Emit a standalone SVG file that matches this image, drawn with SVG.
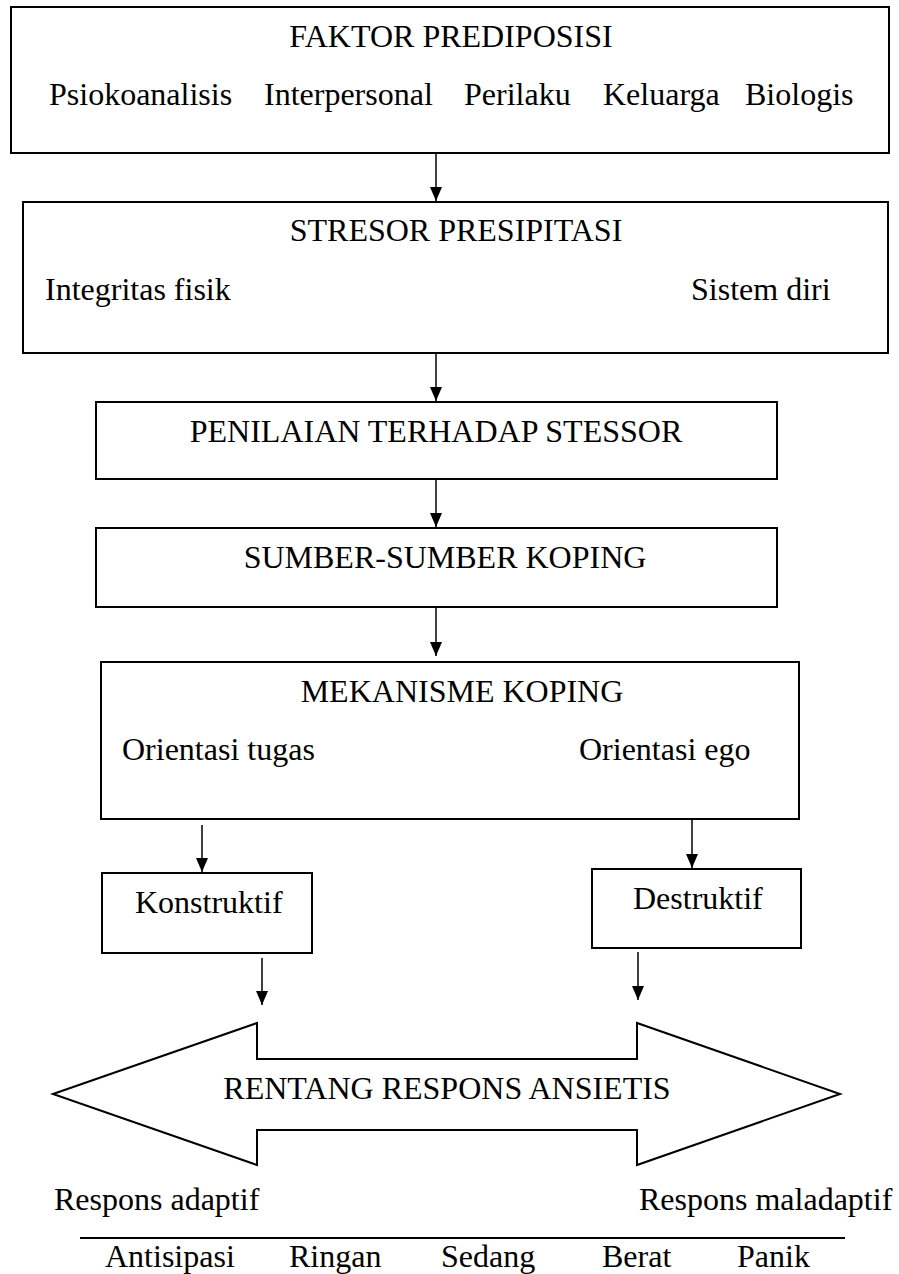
<svg xmlns="http://www.w3.org/2000/svg" width="899" height="1274" viewBox="0 0 899 1274">
<style>
text{font-family:"Liberation Serif","Times New Roman",serif;font-size:32px;fill:#000}
.box{fill:#fff;stroke:#000;stroke-width:2}
.c{text-anchor:middle}
.con line{stroke:#000;stroke-width:1.5}
</style>
<defs>
<marker id="ah" viewBox="0 0 14 12" refX="14" refY="6" markerWidth="14" markerHeight="12" markerUnits="userSpaceOnUse" orient="auto">
<path d="M0,0 L14,6 L0,12 z" fill="#000"/>
</marker>
</defs>
<rect width="899" height="1274" fill="#fff"/>
<g id="faktor">
<rect class="box" x="11" y="7" width="878" height="146"/>
<text class="c" x="451" y="47">FAKTOR PREDIPOSISI</text>
<text x="49" y="105">Psiokoanalisis</text>
<text x="264" y="105">Interpersonal</text>
<text x="464" y="105">Perilaku</text>
<text x="603" y="105">Keluarga</text>
<text x="745" y="105">Biologis</text>
</g>
<g id="stresor">
<rect class="box" x="23" y="202" width="865" height="151"/>
<text class="c" x="456" y="241">STRESOR PRESIPITASI</text>
<text x="45" y="300">Integritas fisik</text>
<text x="691" y="300">Sistem diri</text>
</g>
<g id="penilaian">
<rect class="box" x="96" y="402" width="681" height="77"/>
<text class="c" x="436" y="442">PENILAIAN TERHADAP STESSOR</text>
</g>
<g id="sumber">
<rect class="box" x="96" y="528" width="681" height="79"/>
<text class="c" x="445" y="568">SUMBER-SUMBER KOPING</text>
</g>
<g id="mekanisme">
<rect class="box" x="101" y="662" width="698" height="157"/>
<text class="c" x="462" y="702">MEKANISME KOPING</text>
<text x="122" y="760">Orientasi tugas</text>
<text x="579" y="760">Orientasi ego</text>
</g>
<g id="konstruktif">
<rect class="box" x="102" y="873" width="210" height="80"/>
<text x="135" y="913">Konstruktif</text>
</g>
<g id="destruktif">
<rect class="box" x="592" y="869" width="209" height="79"/>
<text x="633" y="909">Destruktif</text>
</g>
<g id="rentang">
<path class="box" d="M53,1094 L257,1023 L257,1059 L637,1059 L637,1023 L840,1094 L637,1165 L637,1130 L257,1130 L257,1165 Z" stroke-width="1.5"/>
<text class="c" x="447" y="1099">RENTANG RESPONS ANSIETIS</text>
</g>
<g id="labels">
<text x="54" y="1210">Respons adaptif</text>
<text x="639" y="1210">Respons maladaptif</text>
<line x1="80" y1="1238" x2="845" y2="1238" stroke="#000" stroke-width="2"/>
<text x="105" y="1267">Antisipasi</text>
<text x="289" y="1267">Ringan</text>
<text x="441" y="1267">Sedang</text>
<text x="602" y="1267">Berat</text>
<text x="737" y="1267">Panik</text>
</g>
<g id="connectors" class="con">
<line x1="436" y1="154" x2="436" y2="201" marker-end="url(#ah)"/>
<line x1="436" y1="354" x2="436" y2="401" marker-end="url(#ah)"/>
<line x1="436" y1="480" x2="436" y2="527" marker-end="url(#ah)"/>
<line x1="436" y1="608" x2="436" y2="656" marker-end="url(#ah)"/>
<line x1="202" y1="825" x2="202" y2="872" marker-end="url(#ah)"/>
<line x1="692" y1="820" x2="692" y2="868" marker-end="url(#ah)"/>
<line x1="262" y1="958" x2="262" y2="1005" marker-end="url(#ah)"/>
<line x1="638" y1="952" x2="638" y2="1000" marker-end="url(#ah)"/>
</g>
</svg>
